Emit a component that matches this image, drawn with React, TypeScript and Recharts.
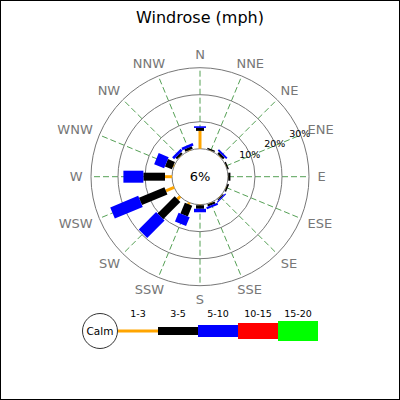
import React from 'react'
import {
  RadialBarChart,
  RadialBar,
  PolarGrid,
  PolarAngleAxis,
  PolarRadiusAxis,
  Legend,
} from 'recharts'

const directions = ['N', 'NNE', 'NE', 'ENE', 'E', 'ESE', 'SE', 'SSE', 'S', 'SSW', 'SW', 'WSW', 'W', 'WNW', 'NW', 'NNW']
const speedBins = ['1-3', '3-5', '5-10', '10-15', '15-20']

// % of observations per direction, one list per speed bin (mph)
const mph1to3 = [6.6, 0.1, 0.2, 0.1, 0.1, 0.1, 0.2, 0.2, 0.2, 0.7, 1.4, 3.3, 2.6, 0.3, 0.2, 0.2]
const mph3to5 = [1.1, 0.5, 0.9, 0.5, 0.8, 0.6, 0.4, 0.8, 1.3, 4.3, 9.0, 10.2, 8.0, 2.8, 0.8, 1.0]
const mph5to10 = [0.6, 0, 0.7, 0, 0, 0, 0.5, 0.8, 1.3, 3.5, 9.1, 11.2, 7.4, 4.0, 1.0, 1.0]
const mph10to15 = [0, 0, 0, 0, 0, 0, 0, 0, 0, 0, 0, 0, 0, 0, 0, 0]
const mph15to20 = [0, 0, 0, 0, 0, 0, 0, 0, 0, 0, 0, 0, 0, 0, 0, 0]
const calmPercent = 6
const radiusTicks = [0, 10, 20, 30]

const binColors = ['#ffa500', '#000000', '#0000ff', '#ff0000', '#00ff00']
const binWidths = [3, 8, 12, 16, 20]

const binValues = [mph1to3, mph3to5, mph5to10, mph10to15, mph15to20]
const rows = directions.map((dir, i) => {
  const row: Record<string, string | number> = { dir }
  binValues.forEach((vals, b) => {
    row['b' + b] = vals[i]
  })
  return row
})

// shared polar frame
const CX = 200
const CY = 176.7
const R_IN = 28
const R_OUT = 109
// recharts centres a bar half a band after its tick, so the bar layer
// is turned back by half a band (360 / 16 / 2) to sit on the tick
const HALF_BAND = 360 / directions.length / 2

// straight bar of constant width along the sector's middle angle
function WindBar(props: any) {
  const { cx, cy, innerRadius, outerRadius, startAngle, endAngle, fill, barWidth } = props
  if (!(outerRadius - innerRadius > 0.01)) return <g />
  const a = (-(startAngle + endAngle) / 2) * (Math.PI / 180)
  const ux = Math.cos(a)
  const uy = Math.sin(a)
  const nx = (-uy * barWidth) / 2
  const ny = (ux * barWidth) / 2
  const pts = [
    [innerRadius, 1],
    [outerRadius, 1],
    [outerRadius, -1],
    [innerRadius, -1],
  ]
    .map(([r, s]) => `${cx + ux * r + s * nx},${cy + uy * r + s * ny}`)
    .join(' ')
  return <polygon points={pts} fill={fill} />
}

const charW: Record<string, number> = { N: 0.748, E: 0.632, S: 0.635, W: 0.989 }

function DirTick(props: any) {
  const { x, y, payload } = props
  const label = String(payload.value)
  const a = -payload.coordinate * (Math.PI / 180)
  const w = label.split('').reduce((s, c) => s + (charW[c] ?? 0.7) * 13, 0)
  return (
    <text
      x={x + Math.cos(a) * (w / 2 + 0.5)}
      y={y + Math.sin(a) * 5.5}
      textAnchor="middle"
      dominantBaseline="central"
      fontSize={13}
      fill="#777"
    >
      {label}
    </text>
  )
}

function RingTick(props: any) {
  const { x, y, payload } = props
  if (!payload.value) return <g />
  return (
    <text x={x - 1} y={y - 1.5} textAnchor="middle" dominantBaseline="central" fontSize={9.5} fill="#000">
      {payload.value}%
    </text>
  )
}

function WindLegend() {
  return (
    <svg width={400} height={60} style={{ display: 'block' }}>
      <circle cx={100} cy={31} r={17.5} fill="#fff" stroke="#000" strokeWidth={0.8} />
      <text x={100} y={31} textAnchor="middle" dominantBaseline="central" fontSize={10.5} fill="#000">
        Calm
      </text>
      {speedBins.map((bin, i) => (
        <g key={bin}>
          <rect x={118 + i * 40} y={31 - binWidths[i] / 2} width={40} height={binWidths[i]} fill={binColors[i]} />
          <text x={138 + i * 40} y={16.5} textAnchor="middle" fontSize={9.5} fill="#000">
            {bin}
          </text>
        </g>
      ))}
    </svg>
  )
}

const frame = {
  width: 400,
  height: 400,
  layout: 'centric' as const,
  cx: CX,
  cy: CY,
  innerRadius: R_IN,
  outerRadius: R_OUT,
  margin: { top: 0, right: 0, bottom: 0, left: 0 },
}

export default function App() {
  return (
    <div
      style={{
        position: 'absolute',
        left: 0,
        top: 0,
        width: 400,
        height: 400,
        background: '#fff',
        fontFamily: 'DejaVu Sans',
      }}
    >
      {/* direction spokes and labels, title, legend */}
      <RadialBarChart {...frame} data={rows} startAngle={90} endAngle={-270}>
        <PolarGrid gridType="circle" polarRadius={[]} stroke="#55a055" strokeDasharray="6 3" />
        <PolarAngleAxis dataKey="dir" type="category" tick={DirTick} tickLine={false} axisLine={false} />
        <Legend
          content={<WindLegend />}
          wrapperStyle={{ position: 'absolute', left: 0, top: 300, width: 400, height: 60 }}
        />
        <text x={CX} y={CY} textAnchor="middle" dominantBaseline="central" fontSize={13} fill="#000">
          {calmPercent}%
        </text>
        <text x={200} y={23} textAnchor="middle" fontSize={16} fill="#000">
          Windrose (mph)
        </text>
      </RadialBarChart>

      {/* rings, ring labels and stacked speed bars */}
      <div style={{ position: 'absolute', left: 0, top: 0 }}>
        <RadialBarChart {...frame} data={rows} startAngle={90 - HALF_BAND} endAngle={-270 - HALF_BAND}>
          <PolarGrid gridType="circle" radialLines={false} stroke="#777" />
          <PolarAngleAxis dataKey="dir" type="category" tick={false} tickLine={false} axisLine={false} />
          <PolarRadiusAxis type="number" domain={[0, 30]} ticks={radiusTicks} angle={22.5} axisLine={false} tick={RingTick} />
          {speedBins.map((bin, b) => (
            <RadialBar
              key={bin}
              dataKey={'b' + b}
              name={bin}
              stackId="speed"
              fill={binColors[b]}
              isAnimationActive={false}
              shape={(p: any) => <WindBar {...p} barWidth={binWidths[b]} />}
            />
          ))}
        </RadialBarChart>
      </div>

      <div
        style={{
          position: 'absolute',
          inset: 0,
          border: '1px solid #000',
          pointerEvents: 'none',
        }}
      />
    </div>
  )
}
